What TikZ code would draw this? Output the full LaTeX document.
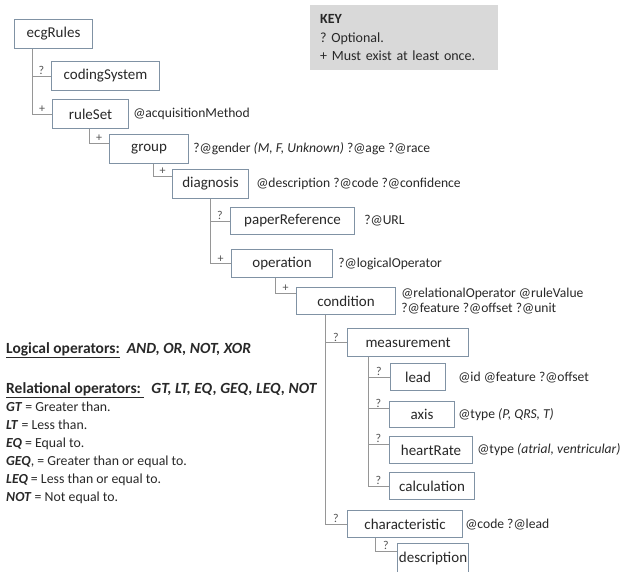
\documentclass[tikz,border=0pt]{standalone}
\usepackage{fontspec}
\setmainfont{Carlito}
\usepackage{tikz}
\usetikzlibrary{positioning}
\definecolor{Borde}{RGB}{128, 146, 164}
\definecolor{Linea}{RGB}{150, 150, 150}
\definecolor{Texto}{RGB}{40, 40, 40}
\definecolor{Clave}{RGB}{217, 217, 217}
\frenchspacing

\begin{document}
\begin{tikzpicture}[x=1pt, y=-1pt,
        element/.style={draw=Borde, line width=1.1pt, fill=white, text=Texto, font=\fontsize{15}{18}\selectfont, minimum height=29pt, inner sep=0pt, anchor=north west},
        link/.style={draw=Linea, line width=0.9pt},
        tag/.style={text=Texto!80, font=\fontsize{12}{13}\selectfont, above, inner sep=1pt},
        attr/.style={text=Texto, font=\fontsize{13.6}{15.5}\selectfont, inner sep=0pt, align=left},
        legend/.style={text=Texto, font=\fontsize{13.8}{18}\selectfont, inner sep=0pt, align=left}
    ]
        % Lienzo (pixeles de la imagen original)
        \useasboundingbox (0,0) rectangle (624,571);

        % Elementos del esquema
        \node[element, minimum width=78pt] (ecg) at (14,19) {ecgRules};
        \node[element, minimum width=108pt] (coding) at (51,61) {codingSystem};
        \node[element, minimum width=76pt] (rset) at (52,99) {ruleSet};
        \node[element, minimum width=79pt] (group) at (109,134) {group};
        \node[element, minimum width=76pt] (diag) at (172,169) {diagnosis};
        \node[element, minimum width=124pt, minimum height=27pt] (paper) at (230,207) {paperReference};
        \node[element, minimum width=101pt, minimum height=28pt] (oper) at (231,249) {operation};
        \node[element, minimum width=99pt, minimum height=27pt] (cond) at (296,287) {condition};
        \node[element, minimum width=121pt, minimum height=28pt] (meas) at (347,328) {measurement};
        \node[element, minimum width=55pt, minimum height=27pt] (lead) at (390,363) {lead};
        \node[element, minimum width=65pt, minimum height=26pt] (axis) at (389,401) {axis};
        \node[element, minimum width=83pt, minimum height=27pt] (heart) at (389,436) {heartRate};
        \node[element, minimum width=85pt, minimum height=27pt] (calc) at (389,472) {calculation};
        \node[element, minimum width=115pt, minimum height=27pt] (charac) at (347,510) {characteristic};
        \node[element, minimum width=71pt, minimum height=29pt] (descr) at (397,543) {description};

        % Conexiones padre -> hijo con cardinalidad
        \draw[link] ([xshift=18pt]ecg.south west) |- (coding.west) node[tag, pos=0.75] {?};
        \draw[link] ([xshift=18pt]ecg.south west) |- (rset.west) node[tag, pos=0.75] {+};
        \draw[link] ([xshift=37pt]rset.south west) |- ([yshift=6pt]group.west) node[tag, pos=0.75] {+};
        \draw[link] ([xshift=44pt]group.south west) |- ([yshift=8pt]diag.west) node[tag, pos=0.75] {+};
        \draw[link] ([xshift=38pt]diag.south west) |- (paper.west) node[tag, pos=0.75] {?};
        \draw[link] ([xshift=38pt]diag.south west) |- (oper.west) node[tag, pos=0.75] {+};
        \draw[link] ([xshift=44pt]oper.south west) |- ([yshift=8pt]cond.west) node[tag, pos=0.75] {+};
        \draw[link] ([xshift=29pt]cond.south west) |- (meas.west) node[tag, pos=0.75] {?};
        \draw[link] ([xshift=29pt]cond.south west) |- (charac.west) node[tag, pos=0.75] {?};
        \draw[link] ([xshift=21pt]meas.south west) |- (lead.west) node[tag, pos=0.75] {?};
        \draw[link] ([xshift=21pt]meas.south west) |- ([yshift=6pt]axis.west) node[tag, pos=0.75] {?};
        \draw[link] ([xshift=21pt]meas.south west) |- ([yshift=6pt]heart.west) node[tag, pos=0.75] {?};
        \draw[link] ([xshift=21pt]meas.south west) |- (calc.west) node[tag, pos=0.75] {?};
        \draw[link] ([xshift=28pt]charac.south west) |- ([yshift=7pt]descr.west) node[tag, pos=0.75] {?};

        % Atributos
        \node[attr, right=4pt of rset] (rsetAt) {@acquisitionMethod};
        \node[attr, right=4pt of group] (groupAt) {?@gender \textit{(M, F, Unknown)} ?@age ?@race};
        \node[attr, right=7pt of diag] (diagAt) {@description ?@code ?@confidence};
        \node[attr, right=9pt of paper] (paperAt) {?@URL};
        \node[attr, right=5pt of oper] (operAt) {?@logicalOperator};
        \node[attr, right=5pt of cond] (condAt) {@relationalOperator\ @ruleValue\\?@feature ?@offset ?@unit};
        \node[attr, right=12pt of lead] (leadAt) {@id @feature ?@offset};
        \node[attr, right=3pt of axis] (axisAt) {@type \textit{(P, QRS, T)}};
        \node[attr, right=4pt of heart] (heartAt) {@type \textit{(atrial, ventricular)}};
        \node[attr, right=2pt of charac] (characAt) {@code ?@lead};

        % Leyenda KEY
        \node[fill=Clave, text=Texto, anchor=north west, minimum width=188pt, minimum height=65pt, text width=168pt, inner xsep=10pt, inner ysep=0pt, align=left, font=\fontsize{14}{18.5}\selectfont] (key) at (310,5) {\textbf{KEY}\\? Optional.\\+ Must exist at least once.};

        % Operadores
        \node[legend, anchor=west, font=\fontsize{15.5}{18}\selectfont] (logic) at (6,350) {\underline{\textbf{Logical operators:}}\ \ \textbf{\textit{AND, OR, NOT, XOR}}};
        \node[legend, anchor=north west] (relat) at (6,382) {{\fontsize{15.5}{18}\selectfont\underline{\textbf{Relational operators:}\ }\ \ \textbf{\textit{GT, LT, EQ, GEQ, LEQ, NOT}}}\\
            \textbf{\textit{GT}} = Greater than.\\
            \textbf{\textit{LT}} = Less than.\\
            \textbf{\textit{EQ}} = Equal to.\\
            \textbf{\textit{GEQ}}, = Greater than or equal to.\\
            \textbf{\textit{LEQ}} = Less than or equal to.\\
            \textbf{\textit{NOT}} = Not equal to.};
    \end{tikzpicture}
\end{document}
